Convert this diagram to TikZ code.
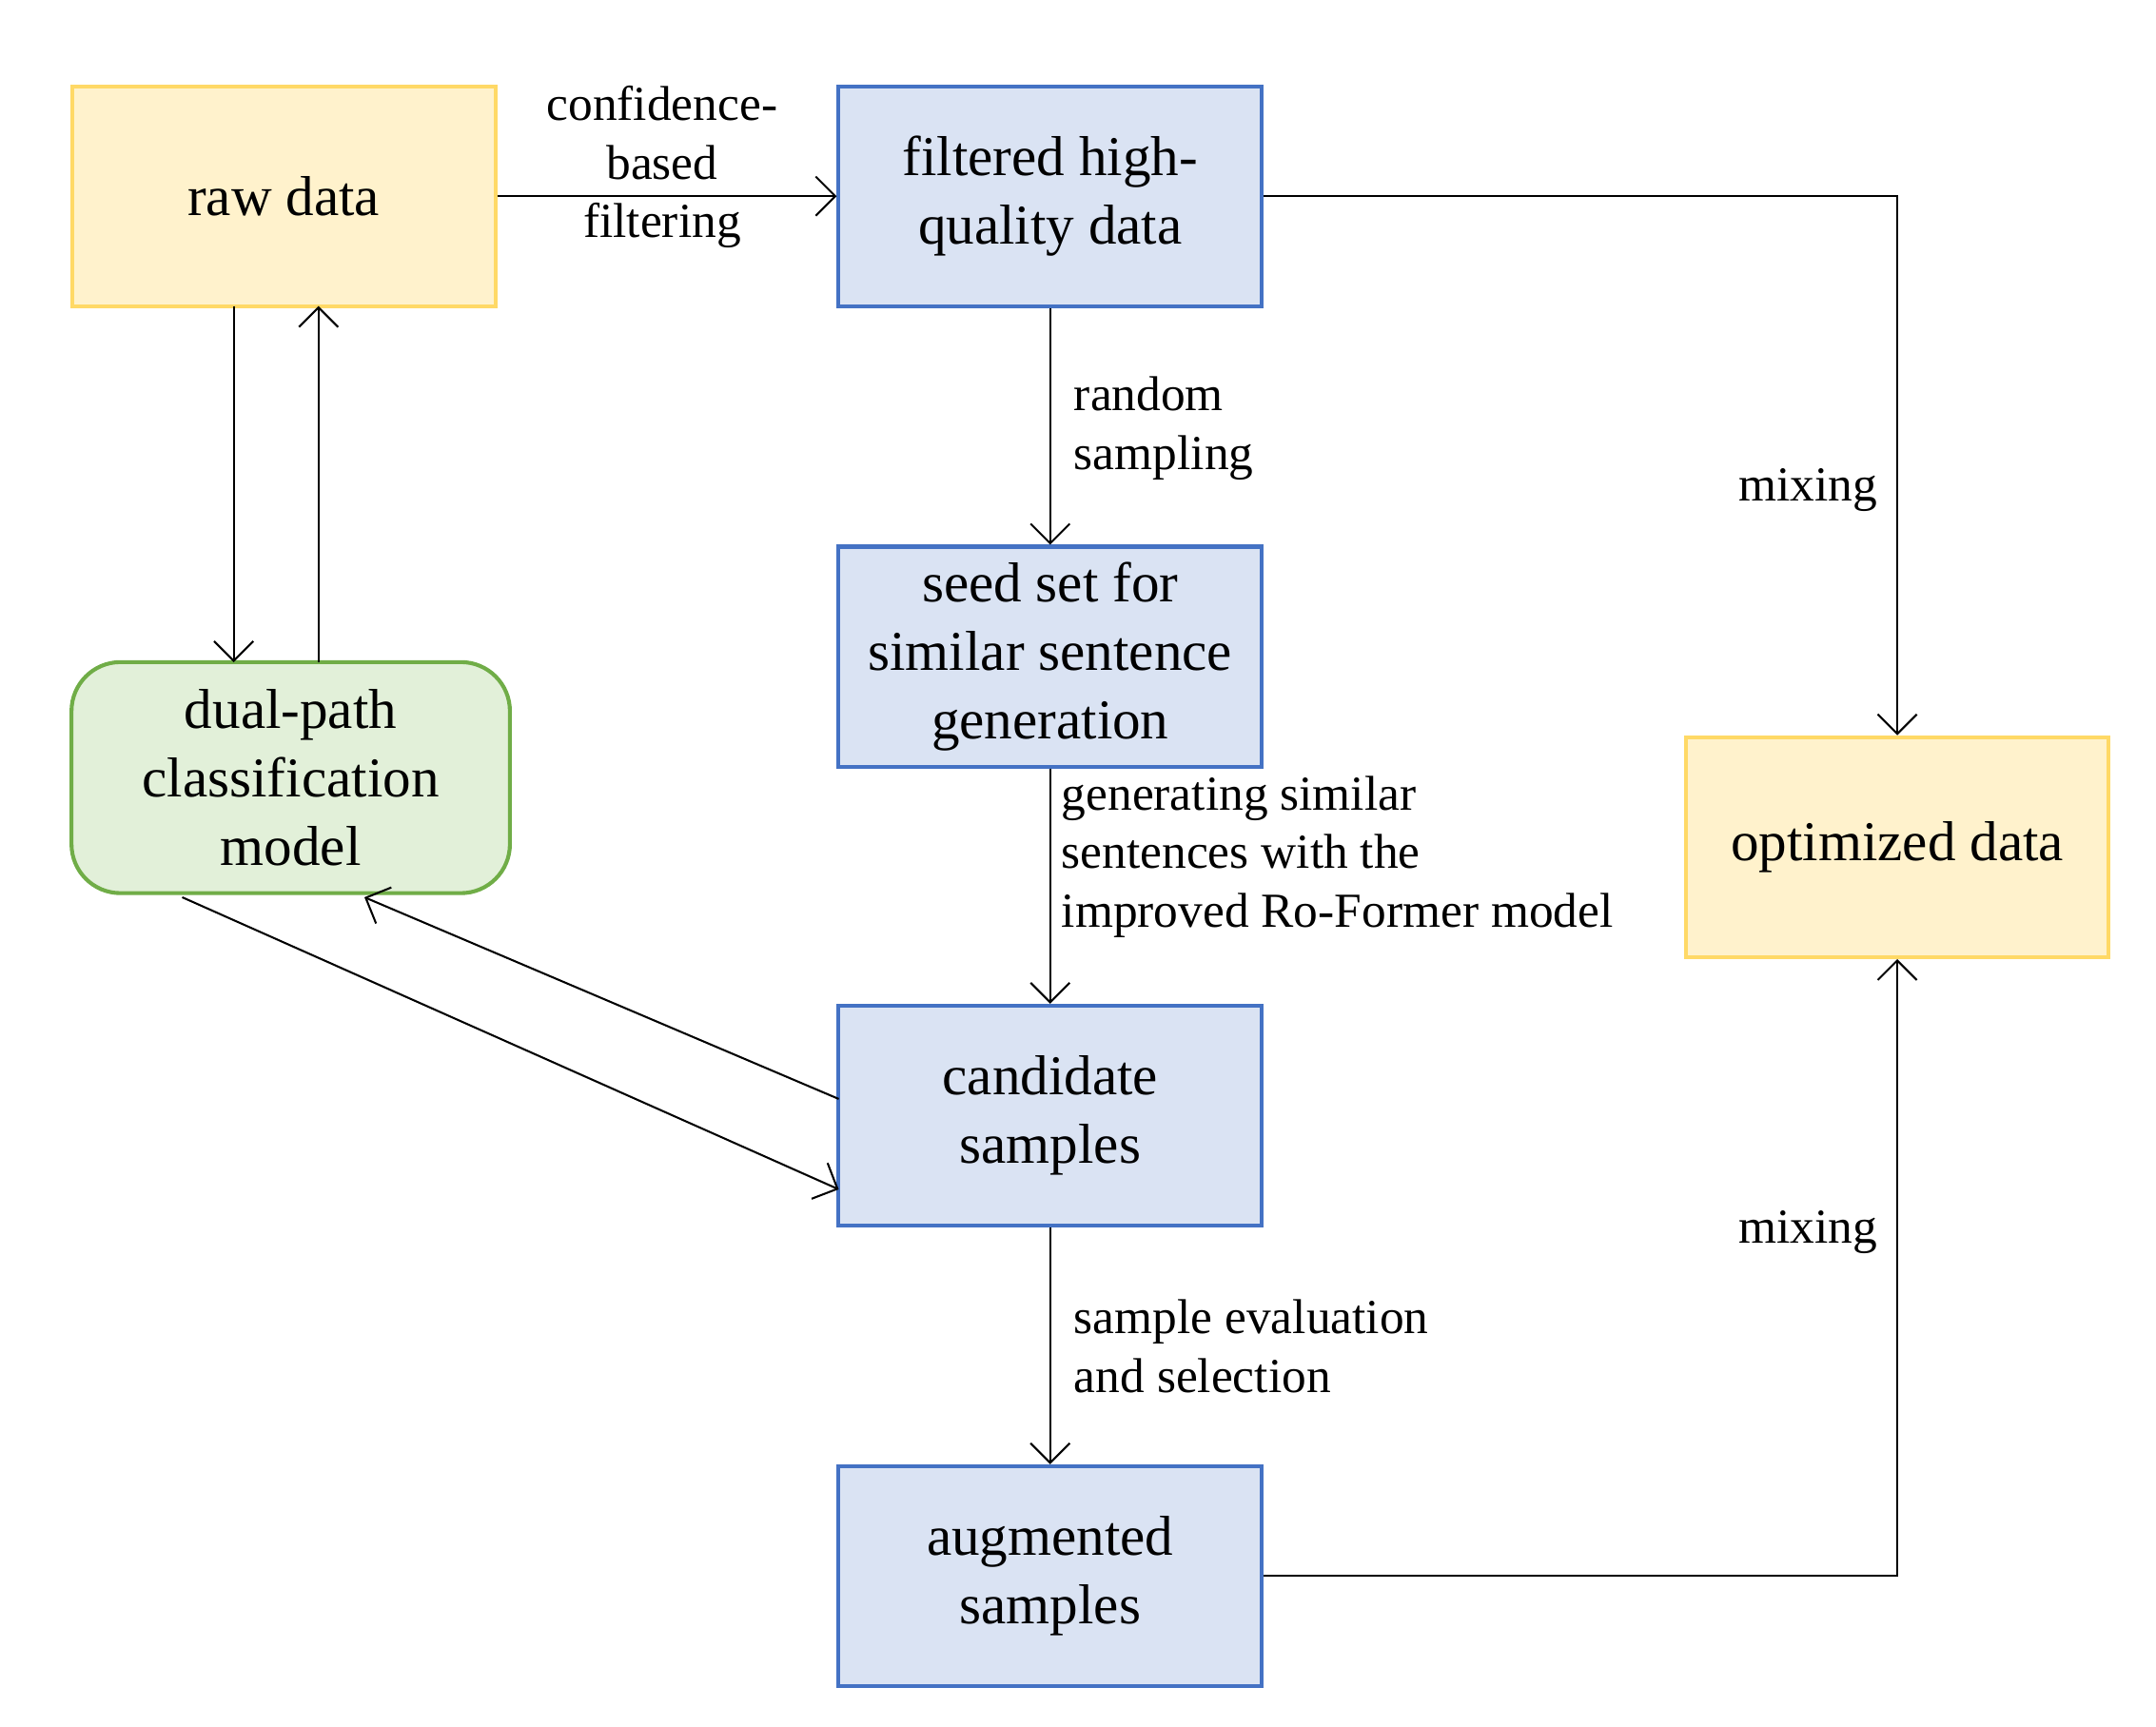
\documentclass[tikz,border=0pt]{standalone}
\usepackage{fontspec}
\setmainfont{Liberation Serif}
\usetikzlibrary{arrows.meta}
\definecolor{ylwfill}{HTML}{FFF2CC}
\definecolor{ylwdraw}{HTML}{FFD966}
\definecolor{bluefill}{HTML}{DAE3F3}
\definecolor{bluedraw}{HTML}{4472C4}
\definecolor{grnfill}{HTML}{E2F0D9}
\definecolor{grndraw}{HTML}{70AD47}
\tikzset{box/.style={rectangle, draw=bluedraw, fill=bluefill, thick, inner sep=2pt,
  minimum width=3.04cm, minimum height=1.58cm, align=center, font=\fontsize{11.5}{14}\selectfont}}
\tikzset{ybox/.style={box, draw=ylwdraw, fill=ylwfill}}
\tikzset{gbox/.style={box, draw=grndraw, fill=grnfill, rounded corners=10pt,
  minimum width=3.15cm, minimum height=1.66cm}}
\tikzset{lbl/.style={font=\fontsize{10}{12}\selectfont, align=left, inner sep=1pt}}
\begin{document}
\begin{tikzpicture}[x=0.01cm, y=-0.01cm, >={Straight Barb[length=4pt]}]
\useasboundingbox (0,0) rectangle (1550,1241);

\node [ybox] (raw) at (204,141) {raw data};
\node [box] (filt) at (755,141) {filtered high-\\quality data};
\node [box] (seed) at (755,472) {seed set for\\similar sentence\\generation};
\node [gbox] (dual) at (209,559) {dual-path\\classification\\model};
\node [ybox] (opt) at (1364,609) {optimized data};
\node [box] (cand) at (755,802) {candidate\\samples};
\node [box] (aug) at (755,1133) {augmented\\samples};

\draw [->] (raw) -- (filt);
\node [lbl, align=center] (conf) at (476,120) {confidence-\\based\\filtering};
\draw [->] (filt) -- (seed);
\node [lbl, anchor=west] (rs) at (768,308) {random\\sampling};
\draw [->] (seed) -- (cand);
\node [lbl, anchor=west] (gen) at (759,616) {generating similar\\sentences with the\\improved Ro-Former model};
\draw [->] (cand) -- (aug);
\node [lbl, anchor=west] (sel) at (768,968) {sample evaluation\\and selection};

\draw [->] (168,220) -- (168,476);
\draw [->] (229,476) -- (229,220);
\draw [->] (131,645) -- (603,855);
\draw [->] (603,790) -- (262,645);

\draw [->] (filt) -| (opt);
\node [lbl] (mix1) at (1300,352) {mixing};
\draw [->] (aug) -| (opt);
\node [lbl] (mix2) at (1300,886) {mixing};
\end{tikzpicture}
\end{document}
